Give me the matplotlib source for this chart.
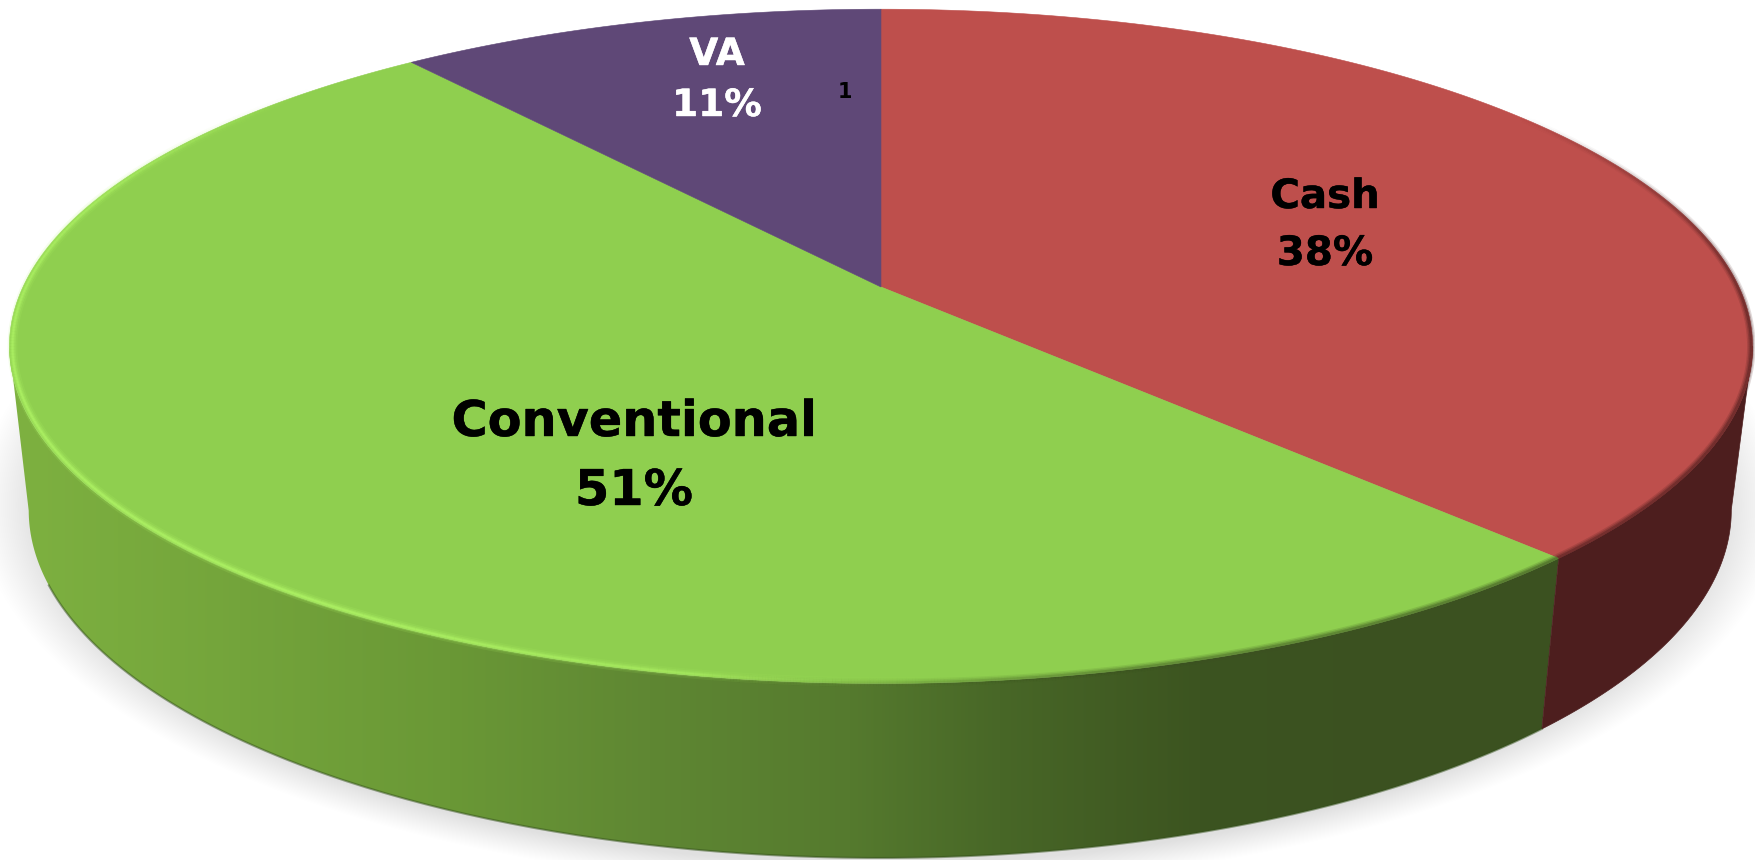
import numpy as np
import matplotlib
matplotlib.use("Agg")
import matplotlib.pyplot as plt
import matplotlib.patheffects as pe
from matplotlib.collections import LineCollection
from matplotlib.colors import to_rgb
from matplotlib.patches import Polygon

# ---- data ----
categories = ["Cash", "Conventional", "VA"]
values = [37.9, 51.4, 10.7]
face_colors = ["#BE4F4C", "#8FCF4F", "#5F4877"]
label_colors = ["black", "black", "white"]
stray_label = "1"

plt.rcParams["font.family"] = ["DejaVu Sans"]

W, H = 1756, 860
fig = plt.figure(figsize=(W / 100, H / 100), dpi=100, facecolor="white")
ax = fig.add_axes([0, 0, 1, 1])

# perspective disc: top face and base
P = 0.176
TOP = dict(cx=881.0, cy=287.0, a=326.7, b=858.0)
BASE = dict(cx=880.0, cy=449.0, a=337.0, b=838.0)


def project(g, t_deg, r=1.0):
    t = np.radians(t_deg)
    x, y = r * np.sin(t), r * np.cos(t)
    d = 1 + P * y
    return g["cx"] + g["b"] * x / d, g["cy"] - g["a"] * y / d


def arc(g, t0, t1, r=1.0, n=240):
    xs, ys = project(g, np.linspace(t0, t1, n), r)
    return np.column_stack([xs, ys])


def extreme(g, t0, t1, func):
    ts = np.linspace(t0, t1, 721)
    return ts[func(project(g, ts)[0])]


angles = np.concatenate([[0], np.cumsum(values) / np.sum(values) * 360])
cash = (angles[0], angles[1])
conv = (angles[1], angles[2])

# soft ground shadow
xx, yy = np.meshgrid(np.arange(W) + .5, np.arange(H) + .5)
rr = np.sqrt(((xx - 880) / 905) ** 2 + ((yy - 505) / 385) ** 2)
sh = np.clip((1.0 - rr) / 0.07, 0, 1) ** 1.1 * 0.125
shadow = np.zeros((H, W, 4))
shadow[..., 3] = sh
ax.imshow(shadow, extent=(0, W, H, 0), aspect="auto", zorder=1)

# side walls: each wall runs from the slice edge to the silhouette tangent
side_x = [0, 30, 450, 650, 850, 1000, 1200, 1400]
side_c = ["#7EB141", "#7DB040", "#6A9836", "#5F8733", "#557A2E", "#486727", "#3C5420", "#3B5120"]
rgb = np.array([to_rgb(c) for c in side_c])
px = np.arange(W) + .5
grad = np.stack([np.interp(px, side_x, rgb[:, i]) for i in range(3)], axis=1)[None, :, :]
tl_top = extreme(TOP, conv[0], conv[1], np.argmin)
tl_base = extreme(BASE, conv[0], conv[1], np.argmin)
green_side = np.vstack([arc(TOP, conv[0], tl_top), arc(BASE, tl_base, conv[0])])
im = ax.imshow(grad, extent=(0, W, H, 0), aspect="auto", zorder=2)
clip = Polygon(green_side, transform=ax.transData, fc="none", ec="none")
ax.add_patch(clip)
im.set_clip_path(clip)
tr_top = extreme(TOP, cash[0], cash[1], np.argmax)
tr_base = extreme(BASE, cash[0], cash[1], np.argmax)
red_side = np.vstack([arc(TOP, tr_top, cash[1]), arc(BASE, cash[1], tr_base)])
ax.add_patch(Polygon(red_side, fc="#4D1E1E", ec="#4D1E1E", lw=0.5, zorder=3))

# base outline
base_line = arc(BASE, conv[0], tl_base - 12)
ax.plot(base_line[:, 0], base_line[:, 1], color="#33501A", alpha=0.5, lw=1.5, zorder=3.5)

# top faces
start = 0.0
for val, col in zip(values, face_colors):
    end = start + val / np.sum(values) * 360
    pts = np.vstack([[[TOP["cx"], TOP["cy"]]], arc(TOP, start, end)])
    ax.add_patch(Polygon(pts, fc=col, ec=col, lw=0.4, zorder=4))
    start = end


def rim(t0, t1, strength, color, radius, widths, alphas):
    ts = np.linspace(t0, t1, 361)
    pts = arc(TOP, t0, t1, radius, 361)
    segs = np.stack([pts[:-1], pts[1:]], axis=1)
    mids = .5 * (ts[:-1] + ts[1:])
    base = np.array(to_rgb(color))
    for w, al in zip(widths, alphas):
        cols = np.zeros((len(mids), 4))
        cols[:, :3] = base
        cols[:, 3] = np.clip(strength(mids) * al, 0, 1)
        ax.add_collection(LineCollection(segs, colors=cols, linewidths=w, capstyle="butt", zorder=5))


# bright bevel on the green front edge
rim(conv[0], conv[1], lambda t: np.interp(t, [172, 192, 215, 260, 285, 312], [0, .6, 1, .9, .7, 0]),
    "#B0F566", 0.9965, [7, 4.5, 2.5, 1.2], [.16, .28, .42, .55])
# dark blurred edge on the right
rim(cash[0] + 55, cash[1], lambda t: np.interp(t, [55, 95, 137], [0, 1, 1]),
    "#4D1E1E", 0.9985, [6, 4, 2], [.18, .28, .42])
rim(conv[0], 200, lambda t: np.interp(t, [137, 165, 190], [1, .7, 0]),
    "#3B5120", 0.9985, [6, 4, 2], [.18, .28, .42])

# labels
positions = [((1325, 197), (1325, 254)), ((634, 422), (634, 491)), ((717, 55), (717, 106))]
sizes = [29, 35.5, 27]
stroke = [pe.withStroke(linewidth=0.3, foreground="black")]
white_stroke = [pe.withStroke(linewidth=0.3, foreground="white")]
for name, val, col, (p1, p2), fs in zip(categories, values, label_colors, positions, sizes):
    eff = white_stroke if col == "white" else stroke
    ax.text(*p1, name, color=col, fontsize=fs, fontweight="bold", ha="center", va="center", zorder=6, path_effects=eff)
    ax.text(*p2, f"{round(val)}%", color=col, fontsize=fs, fontweight="bold", ha="center", va="center", zorder=6, path_effects=eff)
ax.text(845, 92, stray_label, color="black", fontsize=15, fontweight="bold", ha="center", va="center", zorder=6)

ax.set_xlim(0, W)
ax.set_ylim(H, 0)
ax.axis("off")
fig.savefig("out.png", dpi=100, facecolor="white")
